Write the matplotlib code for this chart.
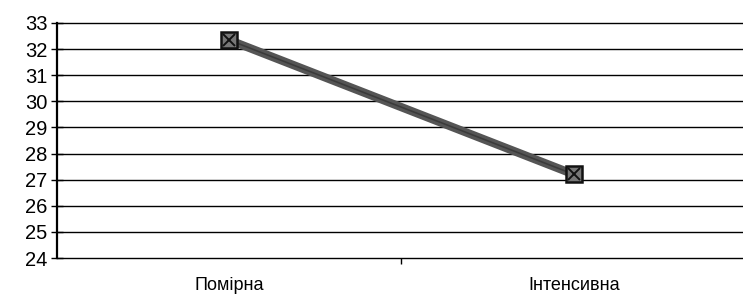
import matplotlib.pyplot as plt

# Дані з графіка
categories = ['Помірна', 'Інтенсивна']
values = [32.35, 27.2]
y_ticks = list(range(24, 34))

plt.rcParams['font.family'] = ['Liberation Sans', 'DejaVu Sans']

fig = plt.figure(figsize=(7.43, 2.99), dpi=100)
ax = fig.add_axes([57 / 743, 1 - 258 / 299, 1 - 57 / 743, (258 - 23) / 299])

x = list(range(len(categories)))
ax.plot(x, values, color='#555555', linewidth=6, solid_capstyle='butt', zorder=3)
ax.plot(x, values, color='#222222', linewidth=1.2, zorder=4, alpha=0.5)
ax.plot(x, values, linestyle='none', marker='s', markersize=11,
        markerfacecolor='#777777', markeredgecolor='#111111', markeredgewidth=1.8, zorder=5)
ax.plot(x, values, linestyle='none', marker='x', markersize=8,
        color='#111111', markeredgewidth=1.4, zorder=6)

ax.set_ylim(24, 33)
ax.set_yticks(y_ticks)
ax.set_xlim(-0.4986, 1.49)
ax.set_xticks(x)
ax.set_xticklabels(categories)
ax.set_xticks([0.5], minor=True)

ax.grid(True, axis='y', color='black', linewidth=1)
for gl in ax.get_ygridlines():
    gl.set_clip_on(False)
ax.set_axisbelow(True)

for side in ['top', 'right', 'bottom']:
    ax.spines[side].set_visible(False)
ax.spines['left'].set_linewidth(1.6)

ax.tick_params(axis='y', direction='inout', length=8, width=1, labelsize=14.5, pad=3)
ax.tick_params(axis='x', which='major', length=0, labelsize=13, pad=14)
ax.tick_params(axis='x', which='minor', length=4, width=1, direction='out')

fig.savefig('out.png', dpi=100)
